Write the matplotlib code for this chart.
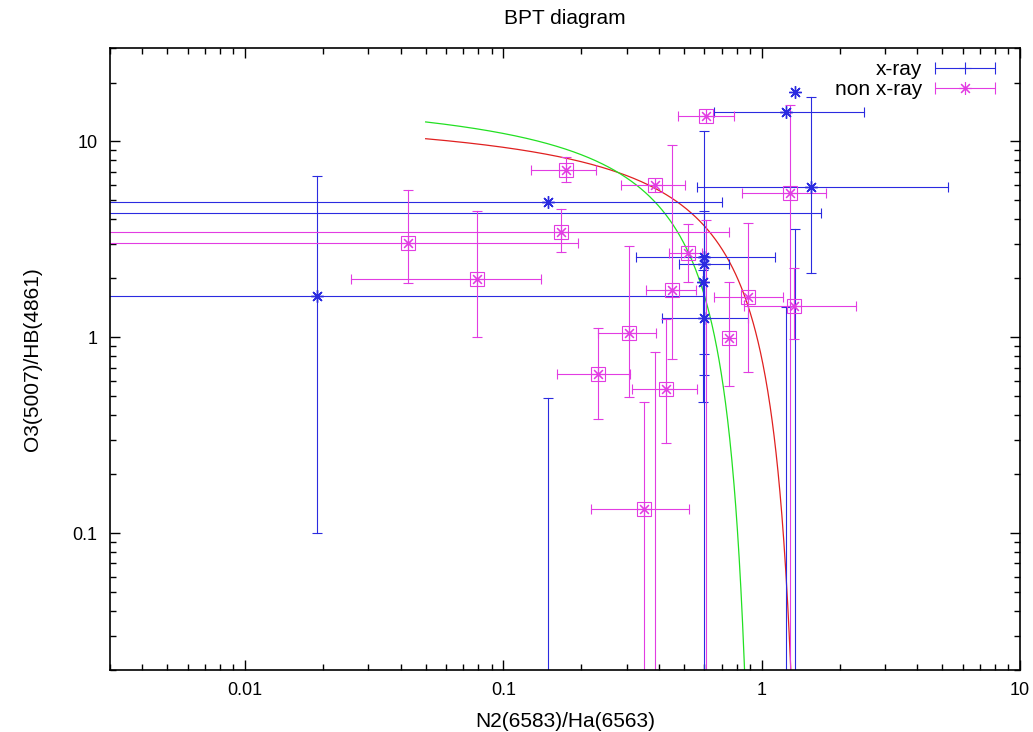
import numpy as np
import matplotlib
matplotlib.use('Agg')
import matplotlib.pyplot as plt
from matplotlib import ticker
from matplotlib.container import ErrorbarContainer
from matplotlib.legend_handler import HandlerErrorbar

plt.rcParams['font.family'] = ['Liberation Sans', 'DejaVu Sans']

# x-ray sources: N2/Ha, O3/Hb and error bar ends (0 = runs off the axis, nan = no bar)
xray_n2 = [0.0190, 0.149, 1.24, 1.34, 1.55, 0.595, 0.595, 0.59, 0.60, 0.002]
xray_o3 = [1.62, 4.91, 14.2, 17.8, 5.88, 2.58, 2.37, 1.91, 1.256, 4.32]
xray_n2_lo = [0, 0, 0.656, np.nan, 0.562, 0.327, 0.477, np.nan, 0.41, 0]
xray_n2_hi = [0.60, 0.70, 2.49, np.nan, 5.25, 1.125, 0.745, np.nan, 0.882, 1.70]
xray_o3_lo = [0.10, 0, 0, 0, 2.13, 0.818, 0.639, 0.466, 0, np.nan]
xray_o3_hi = [6.7, 0.49, 1.42, 3.58, 16.8, 11.3, 4.39, 2.2, 2.6, np.nan]

# non x-ray sources
nonx_n2 = [0.0428, 0.0788, 0.1665, 0.175, 0.385, 0.609, 1.287, 1.337,
           0.888, 0.749, 0.517, 0.450, 0.4266, 0.305, 0.233, 0.351]
nonx_o3 = [3.02, 1.98, 3.44, 7.13, 6.02, 13.5, 5.46, 1.447,
           1.598, 0.996, 2.69, 1.742, 0.545, 1.048, 0.652, 0.1328]
nonx_n2_lo = [0, 0.0258, 0, 0.128, 0.286, 0.476, 0.839, 0.856,
              0.656, np.nan, 0.439, 0.357, 0.315, 0.232, 0.161, 0.219]
nonx_n2_hi = [0.194, 0.140, 0.749, 0.229, 0.505, 0.779, 1.772, 2.315,
              1.205, np.nan, 0.589, 0.557, 0.562, 0.388, 0.310, 0.525]
nonx_o3_lo = [1.89, 1.0, 2.71, 6.21, 0, 0, 0, 0.985,
              0.667, 0.567, 1.91, 0.771, 0.288, 0.496, 0.383, 0]
nonx_o3_hi = [5.67, 4.43, 4.52, 8.35, 0.84, 3.95, 15.4, 2.25,
              3.83, 1.92, 3.78, 9.57, 1.237, 2.94, 1.11, 0.466]

# demarcation lines log10(O3/Hb) = a/(ln(N2/Ha) - b) + c
kewley = (0.61, 0.47, 1.19)
kauffmann = (0.61, 0.05, 1.3)
curve_start = 0.05

blue = '#2b2be0'
magenta = '#e23ce2'


def demarcation(n2, a, b, c):
    return 10 ** (a / (np.log(n2) - b) + c)


def draw_bars(ax, x, y, xlo, xhi, ylo, yhi, color):
    for i in range(len(x)):
        if not np.isnan(xlo[i]):
            ax.plot([xlo[i], xhi[i]], [y[i], y[i]], color=color, lw=0.8)
            caps = [v for v in (xlo[i], xhi[i]) if v > 0]
            ax.plot(caps, [y[i]] * len(caps), ls='none', marker='|',
                    ms=7, mew=0.8, color=color)
        if not np.isnan(ylo[i]):
            ax.plot([x[i], x[i]], [ylo[i], yhi[i]], color=color, lw=0.8)
            caps = [v for v in (ylo[i], yhi[i]) if v > 0]
            ax.plot([x[i]] * len(caps), caps, ls='none', marker='_',
                    ms=7, mew=0.8, color=color)


fig = plt.figure(figsize=(10.33, 7.32), dpi=100)
ax = fig.add_axes([0.1065, 0.0847, 0.881, 0.8497])
ax.set_xscale('log')
ax.set_yscale('log')

for (a, b, c), col in [(kewley, '#e02020'), (kauffmann, '#22e022')]:
    n2 = np.geomspace(curve_start, np.exp(b) * (1 - 1e-7), 800)
    ax.plot(n2, demarcation(n2, a, b, c), color=col, lw=0.9)

draw_bars(ax, xray_n2, xray_o3, xray_n2_lo, xray_n2_hi, xray_o3_lo, xray_o3_hi, blue)
draw_bars(ax, nonx_n2, nonx_o3, nonx_n2_lo, nonx_n2_hi, nonx_o3_lo, nonx_o3_hi, magenta)

ax.plot(xray_n2, xray_o3, ls='none', marker=(8, 2, 0), ms=9, mew=1.0, color=blue)
ax.plot(nonx_n2, nonx_o3, ls='none', marker='s', ms=10, mfc='none', mec=magenta, mew=0.8)
ax.plot(nonx_n2, nonx_o3, ls='none', marker=(8, 2, 0), ms=9, mew=0.8, color=magenta)

# legend proxies
h1 = ax.errorbar([np.nan], [np.nan], xerr=[1.0], fmt='', marker='+', ls='none',
                 ms=9, mew=0.8, color=blue, capsize=4, elinewidth=0.8,
                 capthick=0.8, label='x-ray')
h2 = ax.errorbar([np.nan], [np.nan], xerr=[1.0], fmt='', marker=(8, 2, 0), ls='none',
                 ms=9, mew=0.8, color=magenta, capsize=4, elinewidth=0.8,
                 capthick=0.8, label='non x-ray')
ax.legend(handles=[h1, h2], loc='upper right', bbox_to_anchor=(0.993, 1.011),
          frameon=False, markerfirst=False, fontsize=15, handlelength=2.9,
          labelspacing=0.05, handletextpad=0.6,
          handler_map={ErrorbarContainer: HandlerErrorbar(xerr_size=1.45)})

ax.set_xlim(0.003, 10)
ax.set_ylim(0.02, 30)
fmt = ticker.FuncFormatter(lambda v, _: f'{v:g}')
ax.xaxis.set_major_formatter(fmt)
ax.yaxis.set_major_formatter(fmt)
ax.xaxis.set_minor_formatter(ticker.NullFormatter())
ax.yaxis.set_minor_formatter(ticker.NullFormatter())
ax.tick_params(which='both', direction='in', top=True, right=True, labelsize=13, pad=9)
ax.tick_params(which='major', length=7, width=1)
ax.tick_params(which='minor', length=4, width=1)
for s in ax.spines.values():
    s.set_linewidth(1.2)

ax.set_title('BPT diagram', fontsize=15, pad=17)
ax.set_xlabel('N2(6583)/Ha(6563)', fontsize=15, labelpad=9)
ax.set_ylabel('O3(5007)/HB(4861)', fontsize=15, labelpad=22)

fig.savefig('out.png', dpi=100)
